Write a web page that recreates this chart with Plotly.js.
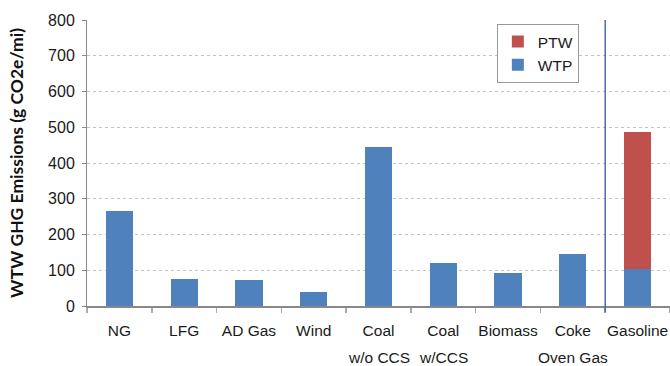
<!DOCTYPE html>
<html>
<head>
<meta charset="utf-8">
<script src="https://cdn.plot.ly/plotly-3.0.1.min.js"></script>
<style>html,body{margin:0;padding:0;background:#fff;}#chart{width:670px;height:366px;}</style>
</head>
<body>
<div id="chart"></div>
<script>
// Data
const categories = ["NG", "LFG", "AD Gas", "Wind", "Coal w/o CCS", "Coal w/CCS", "Biomass", "Coke Oven Gas", "Gasoline"];
const labelLine1 = ["NG", "LFG", "AD Gas", "Wind", "Coal", "Coal", "Biomass", "Coke", "Gasoline"];
const labelLine2 = ["", "", "", "", "w/o CCS", "w/CCS", "", "Oven Gas", ""];
const wtpValues = [265, 76, 73, 39, 444, 120, 92, 145, 103];
const ptwValues = [0, 0, 0, 0, 0, 0, 0, 0, 384];
const yTicks = [0, 100, 200, 300, 400, 500, 600, 700, 800];

const font = "Liberation Sans, Arial, sans-serif";
const traces = [
  {type: "bar", name: "WTP", x: categories, y: wtpValues, marker: {color: "#4f81bd"}, hoverinfo: "skip"},
  {type: "bar", name: "PTW", x: categories, y: ptwValues, marker: {color: "#c0504d"}, hoverinfo: "skip"}
];

const annotations = categories.map((c, i) => ({
  x: c, xref: "x", y: 0, yref: "paper", yshift: -51, text: labelLine2[i],
  showarrow: false, font: {family: font, size: 15.5, color: "#1a1a1a"}, xanchor: "center", yanchor: "middle"
})).filter(a => a.text !== "");

const layout = {
  width: 670, height: 366,
  margin: {l: 87, r: 0, t: 20, b: 60},
  paper_bgcolor: "#fff", plot_bgcolor: "#fff",
  barmode: "stack", bargap: 0.58,
  showlegend: true,
  legend: {x: 0.703, y: 0.986, xanchor: "left", yanchor: "top", traceorder: "reversed",
           bgcolor: "#fff", bordercolor: "#999", borderwidth: 1,
           font: {family: font, size: 15.5, color: "#1a1a1a"}, itemwidth: 30},
  xaxis: {
    type: "category", categoryorder: "array", categoryarray: categories,
    tickmode: "array", tickvals: categories, ticktext: labelLine1,
    range: [-0.5, 8.5], tickangle: 0,
    showline: true, linecolor: "#888", linewidth: 1.5,
    ticks: "outside", tickson: "boundaries", ticklen: 5, tickcolor: "#aaa", tickwidth: 1.5,
    showgrid: false, ticklabelstandoff: 10,
    tickfont: {family: font, size: 15.5, color: "#1a1a1a"}
  },
  yaxis: {
    range: [0, 800], tickmode: "array", tickvals: yTicks,
    showline: true, linecolor: "#888", linewidth: 1,
    ticks: "outside", ticklen: 4, tickcolor: "#888", ticklabelstandoff: 4,
    showgrid: true, gridcolor: "#c4c4c4", griddash: "dot", gridwidth: 1,
    zeroline: false,
    tickfont: {family: font, size: 16, color: "#1a1a1a"},
    title: {text: "WTW GHG Emissions (g CO2e/mi)", font: {family: "Lato, sans-serif", size: 17.5, color: "#111", weight: "bold"}, standoff: 19}
  },
  shapes: [
    {type: "line", xref: "x", yref: "paper", x0: 7.5, x1: 7.5, y0: -0.022, y1: 1, line: {color: "#4a6fa5", width: 1.5}}
  ],
  annotations: annotations
};

Plotly.newPlot("chart", traces, layout, {displayModeBar: false, staticPlot: true});
</script>
</body>
</html>
